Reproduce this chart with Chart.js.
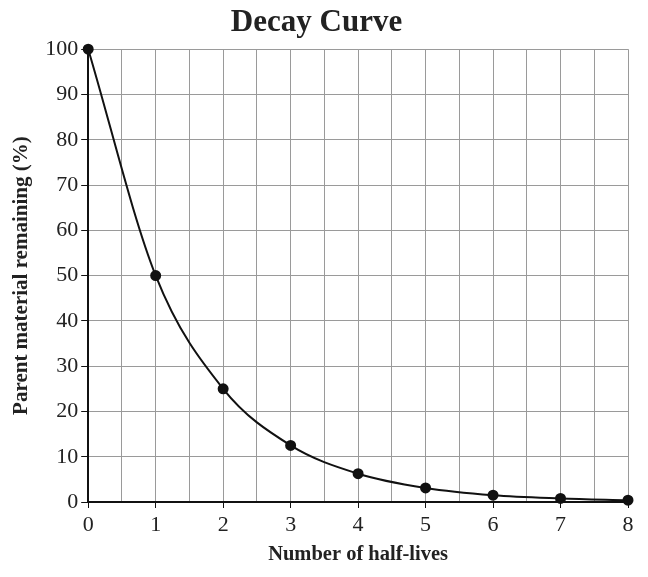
<!DOCTYPE html>
<html>
<head>
<meta charset="utf-8">
<script src="https://cdn.jsdelivr.net/npm/chart.js@4"></script>
<style>
  html, body { margin: 0; padding: 0; background: #fff; }
  #wrap { width: 648px; height: 577px; }
</style>
</head>
<body>
<div id="wrap"><canvas id="decayChart" width="648" height="577"></canvas></div>
<script>
"use strict";
var halfLives = [0, 1, 2, 3, 4, 5, 6, 7, 8];
var remaining = [100, 50, 25, 12.5, 6.25, 3.1, 1.5, 0.8, 0.4];

(function () {
    var serif = "'Liberation Serif', 'DejaVu Serif', serif";
    var ctx = document.getElementById("decayChart").getContext("2d");

    var points = halfLives.map(function (x, i) {
        return { x: x, y: remaining[i] };
    });

    function isWhole(v) {
        return Math.abs(v - Math.round(v)) < 1e-6;
    }

    new Chart(ctx, {
        type: "line",
        data: {
            datasets: [{
                data: points,
                borderColor: "#111",
                backgroundColor: "#111",
                borderWidth: 2,
                pointRadius: 4.5,
                pointHoverRadius: 4.5,
                cubicInterpolationMode: "monotone",
                clip: false,
                fill: false
            }]
        },
        options: {
            responsive: false,
            animation: false,
            layout: { padding: { top: 0, right: 20, bottom: 6, left: 5 } },
            plugins: {
                legend: { display: false },
                tooltip: { enabled: false },
                title: {
                    display: true,
                    text: "Decay Curve",
                    color: "#222",
                    font: { family: serif, size: 31, weight: "bold" },
                    padding: { top: 4, bottom: 8 }
                }
            },
            scales: {
                x: {
                    type: "linear",
                    min: 0,
                    max: 8,
                    border: { color: "#111", width: 2 },
                    grid: {
                        color: "#9a9a9a",
                        lineWidth: 1,
                        tickLength: 6,
                        tickColor: function (c) {
                            return isWhole(c.tick.value) ? "#111" : "rgba(0,0,0,0)";
                        }
                    },
                    ticks: {
                        stepSize: 0.5,
                        color: "#222",
                        padding: 4,
                        maxRotation: 0,
                        autoSkip: false,
                        font: { family: serif, size: 22 },
                        callback: function (v) {
                            return isWhole(v) ? String(Math.round(v)) : "";
                        }
                    },
                    title: {
                        display: true,
                        text: "Number of half-lives",
                        color: "#222",
                        font: { family: serif, size: 20.5, weight: "bold" },
                        padding: { top: 0 }
                    }
                },
                y: {
                    min: 0,
                    max: 100,
                    border: { color: "#111", width: 2 },
                    grid: {
                        color: "#9a9a9a",
                        lineWidth: 1,
                        tickLength: 7,
                        tickColor: "#111"
                    },
                    ticks: {
                        stepSize: 10,
                        color: "#222",
                        padding: 3,
                        font: { family: serif, size: 22 }
                    },
                    title: {
                        display: true,
                        text: "Parent material remaining (%)",
                        color: "#222",
                        font: { family: serif, size: 21, weight: "bold" },
                        padding: { bottom: 8 }
                    }
                }
            }
        }
    });
})();
</script>
</body>
</html>
